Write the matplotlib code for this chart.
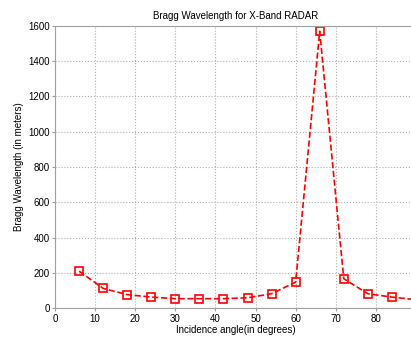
import matplotlib
matplotlib.use("Agg")
import matplotlib.pyplot as plt

angles = [6, 12, 18, 24, 30, 36, 42, 48, 54, 60, 66, 72, 78, 84, 90]
wavelength = [209, 111, 76, 62, 53, 53, 53, 58, 81, 147, 1570, 166, 81, 62, 47]
xticks = [0, 10, 20, 30, 40, 50, 60, 70, 80, 90]
yticks = [0, 200, 400, 600, 800, 1000, 1200, 1400, 1600]

plt.rcParams['font.family'] = ['Liberation Sans', 'DejaVu Sans']
fig = plt.figure(figsize=(4.11, 3.39), dpi=100)
ax = fig.add_axes([0.134, 0.0914, 0.878, 0.832])
ax.plot(angles, wavelength, color='red', linestyle='--', linewidth=1.2,
        marker='s', markersize=6, markerfacecolor='none', markeredgecolor='red',
        markeredgewidth=1.2)
ax.set_xlim(0, 90)
ax.set_ylim(0, 1600)
ax.set_xticks(xticks)
ax.set_yticks(yticks)
ax.grid(True, color='#b0b0b0', linestyle=':', linewidth=0.8)
for s in ax.spines.values():
    s.set_color('#a0a0a0')
    s.set_linewidth(0.8)
ax.tick_params(labelsize=7, length=2, color='#a0a0a0', pad=2)
ax.set_title('Bragg Wavelength for X-Band RADAR', fontsize=7, pad=5)
ax.set_xlabel('Incidence angle(in degrees)', fontsize=7, labelpad=1)
ax.set_ylabel('Bragg Wavelength (in meters)', fontsize=7, labelpad=3)
fig.savefig('out.png', dpi=100)
